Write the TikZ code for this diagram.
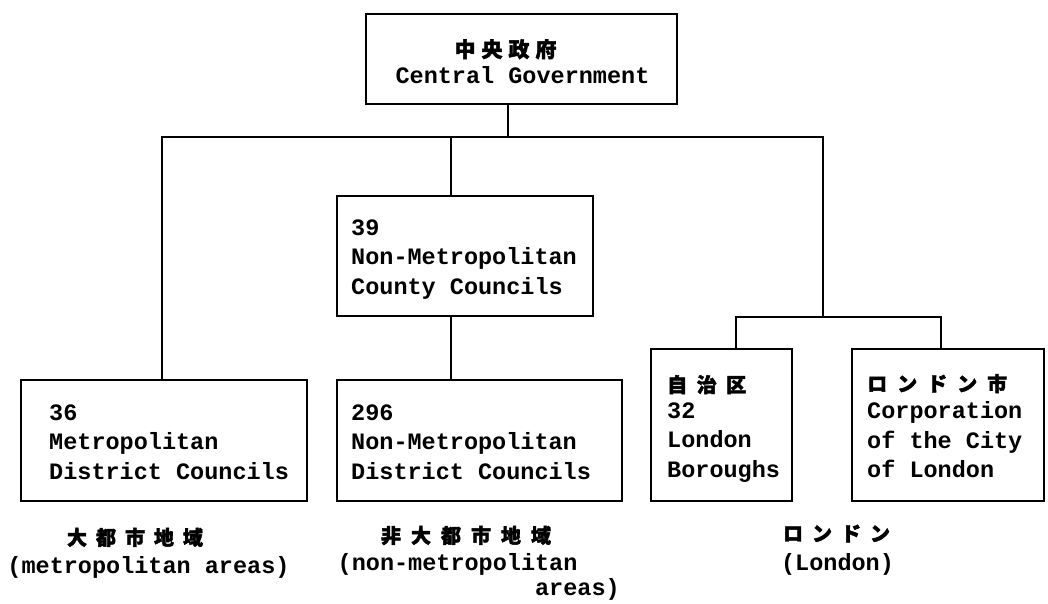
\documentclass[tikz,border=0pt]{standalone}
\usepackage{fontspec}
\setmainfont{Liberation Mono}
\newfontfamily\cjk{Noto Sans CJK JP}[FakeBold=2]
\newcommand\lat{\bfseries\fontsize{23.5}{29.5}\selectfont}
\newcommand\jf[1]{\cjk\fontsize{#1}{29.5}\selectfont}
\begin{document}
\begin{tikzpicture}[x=1pt,y=-1pt,
  box/.style={draw, line width=2.4pt, inner sep=0pt, rectangle},
  conn/.style={line width=2.4pt},
  txt/.style={inner sep=0pt, align=left, anchor=north west, font=\lat},
  lbl/.style={inner sep=0pt, anchor=base, font=\lat}]
\useasboundingbox (0,0) rectangle (1048,604);
% boxes
\node[box, minimum width=310.6pt, minimum height=89.6pt] (cg) at (521.5,59) {};
\node[box, minimum width=285.6pt, minimum height=120.6pt] (m36) at (164,440.5) {};
\node[box, minimum width=255.6pt, minimum height=119.6pt] (nmc) at (465,256) {};
\node[box, minimum width=284.6pt, minimum height=120.6pt] (nmd) at (479.5,440.5) {};
\node[box, minimum width=140.6pt, minimum height=151.6pt] (lb) at (721.5,425) {};
\node[box, minimum width=191.6pt, minimum height=151.6pt] (col) at (948,425) {};
% box texts
\node[txt, align=center, anchor=north] (tcg) at (522.5,36.35)
  {\strut{\jf{21}中\kern6pt 央\kern6pt 政\kern6pt 府}\kern34pt\\[-3.5pt]Central Government};
\node[txt] (t36) at (49,399.35) {\strut 36\\Metropolitan\\District Councils};
\node[txt] (t39) at (351,214.35) {\strut 39\\Non-Metropolitan\\County Councils};
\node[txt] (t296) at (351,399.35) {\strut 296\\Non-Metropolitan\\District Councils};
\node[txt] (tlb) at (667,371.35) {\strut{\jf{20}自\kern9.5pt 治\kern9.5pt 区}\\[-3.5pt]32\\London\\Boroughs};
\node[txt] (tcol) at (867,370.35) {\strut{\jf{20}ロ\kern10pt ン\kern10pt ド\kern10pt ン\kern10pt 市}\\[-2pt]Corporation\\of the City\\of London};
% labels under boxes
\node[lbl] (ma1) at (135,545) {\jf{20}大\kern9pt 都\kern9pt 市\kern9pt 地\kern9pt 域};
\node[lbl] (ma2) at (148.5,573) {(metropolitan areas)};
\node[lbl] (nma1) at (466,543) {\jf{20}非\kern10pt 大\kern10pt 都\kern10pt 市\kern10pt 地\kern10pt 域};
\node[txt] (nma2) at (337.5,549.35) {\strut(non-metropolitan\\[-4.5pt]\phantom{(non-metropoli}areas)};
\node[lbl] (lon1) at (836.5,541) {\jf{20}ロ\kern9pt ン\kern9pt ド\kern9pt ン};
\node[lbl] (lon2) at (837.5,570) {(London)};
% connectors
\coordinate (bL) at (162,137);
\coordinate (bC) at (508,137);
\coordinate (bM) at (451,137);
\coordinate (bR) at (823,137);
\coordinate (lJ) at (823,317);
\coordinate (lL) at (736,317);
\coordinate (lR) at (941,317);
\draw[conn] (cg.south -| bC) -- (bC);
\draw[conn] (m36.north -| bL) -- (bL) -- (bR) -- (lJ);
\draw[conn] (bM) -- (nmc.north -| bM);
\draw[conn] (nmc.south -| bM) -- (nmd.north -| bM);
\draw[conn] (lb.north -| lL) -- (lL) -- (lR) -- (col.north -| lR);
\end{tikzpicture}
\end{document}
